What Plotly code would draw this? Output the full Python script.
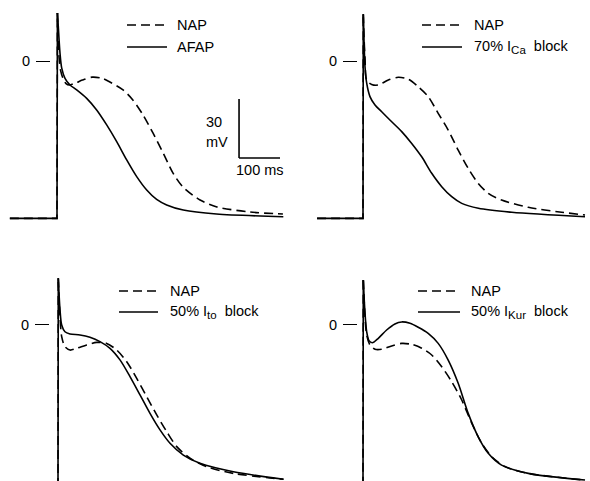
import plotly.graph_objects as go

# ---------------- data (time in ms from upstroke, membrane potential in mV) ----------------
REST = -80

# Panel A: NAP vs AFAP
a_nap_t = [-115, 0, 1, 2.5, 5, 9, 15, 22, 30, 45, 62, 86, 110, 129, 161, 185, 210, 234, 259, 283, 307, 349, 390, 471, 551]
a_nap_v = [REST, REST, 24.4, 12, 2, -5, -9, -11.5, -12.2, -11.2, -9.7, -8.2, -8.8, -10.7, -14.7, -19.8, -27.5, -36.6, -46.8, -57, -64, -70.7, -74.2, -76.8, -77.8]
a_afap_t = [-115, 0, 1, 3, 7.3, 11.4, 19.5, 31.7, 48, 72.4, 96.7, 121.2, 145.6, 170, 194.4, 218.8, 243, 267.5, 308, 389, 552]
a_afap_v = [REST, REST, 24.4, 18, 4, -3.5, -8.8, -12.2, -14.7, -19, -24.9, -32.5, -41, -50.3, -58.8, -65.6, -70.4, -73.2, -75.8, -77.8, -79.2]

# Panel B: NAP vs 70% ICa block
b_nap_t = [-112, 0, 0.7, 2.5, 5, 9, 21.2, 37.3, 61.7, 86, 110.5, 134.6, 159, 183.4, 207.8, 232.2, 256.6, 281, 305.5, 338, 403, 484.5, 541.5]
b_nap_v = [REST, REST, 23.8, 12, 1, -9.7, -11.9, -12.2, -9.7, -8.3, -9.3, -13.1, -18.1, -26.6, -35.1, -45.3, -54.6, -62.2, -67.3, -70.7, -74.4, -76.9, -78.3]
b_ica_t = [-112, 0, 0.7, 2.5, 4.9, 9, 17, 29.3, 45.6, 70, 94.4, 118.8, 143.2, 167.6, 192, 216.4, 240.8, 281.4, 363, 541.5]
b_ica_v = [REST, REST, 23.8, 10, -2.9, -11.3, -18.1, -22.4, -25.8, -30.9, -35.9, -41.9, -48.7, -57.1, -63.9, -69, -72.4, -74.9, -76.9, -79.2]

# Panel C: NAP vs 50% Ito block
c_nap_t = [-115, 0, 0.7, 4.9, 9, 17, 29.3, 45.6, 70, 94.4, 118.8, 143.2, 167.6, 192, 216.4, 240.8, 265.2, 289.6, 322, 362.7, 427.8, 550]
c_nap_v = [REST, REST, 23.5, 4, -6.2, -11.3, -13, -12.1, -10.4, -9.1, -9.6, -13, -18.9, -27.4, -36.7, -46, -54.5, -62.1, -68, -72.3, -75.7, -78.7]
c_ito_t = [-115, 0, 0.7, 4.9, 9, 17, 29.3, 53.7, 78, 102.4, 126.8, 151.2, 175.6, 200, 224.4, 248.8, 273.2, 305.7, 346.3, 427.8, 550]
c_ito_v = [REST, REST, 23.5, 7.4, -0.3, -3.7, -4.8, -5.3, -6.5, -8.7, -12.1, -18, -26.5, -35.8, -45.2, -53.6, -60.4, -66.4, -70.6, -74.9, -78.7]

# Panel D: NAP vs 50% IKur block
d_nap_t = [-112, 0, 0.7, 4.9, 9, 17, 29.3, 45.6, 70, 94.4, 118.8, 143.2, 167.6, 192, 216.4, 240.8, 265.2, 289.6, 314, 346.3, 403.4, 541.5]
d_nap_v = [REST, REST, 22.6, 4, -5.3, -10.4, -12.6, -12.6, -10.9, -9.6, -10.1, -12.1, -15.5, -21.5, -29.1, -38.4, -50.2, -60.4, -67.2, -72.2, -75.7, -79.1]
d_kur_t = [-112, 0, 0.7, 4.9, 9, 14.6, 22.7, 37.3, 57.6, 77.8, 94.4, 114.6, 134.6, 159, 183.4, 207.8, 232.2, 256.6, 281, 305.5, 338, 403, 541.5]
d_kur_v = [REST, REST, 22.6, 5.7, -3.7, -8.2, -9.3, -7, -2.8, 0.3, 1.3, 0.6, -1.4, -4.5, -9.6, -18.1, -29.9, -45.2, -57.1, -65.5, -71.5, -75.7, -79.1]

SUB = "<sub><span style='font-size:11.5px'>{}</span></sub>"
legend_names = [("NAP", "AFAP"),
                ("NAP", "70% I" + SUB.format("Ca") + "  block"),
                ("NAP", "50% I" + SUB.format("to") + "  block"),
                ("NAP", "50% I" + SUB.format("Kur") + "  block")]

# scale bar (panel A): 100 ms, 30 mV
SCALE_T0, SCALE_V0, SCALE_DT, SCALE_DV = 444, -49.3, 100, 30

# ---------------- layout geometry ----------------
W, H = 590, 481
MS_PER_PX = 100 / 41.0
MV_PER_PX = 30 / 59.0
FONT = "Liberation Sans, Arial, Helvetica, sans-serif"
FS = 14.5
LW = 1.6
DASH = "9px,5px"
PEAK_IDX = 2  # index of the spike peak: rest + upstroke drawn straight, the rest smoothed

def px(x):
    return x / W

def py(y):
    return 1 - y / H

# panel pixel boxes: (x_left, x_right, y_top, y_bottom, upstroke_x, zero_y, tick_x)
panels = [
    (0, 295, 0, 240, 57, 61, 50),
    (295, 590, 0, 240, 363, 61, 357),
    (0, 295, 240, 481, 58, 324.5, 49),
    (295, 590, 240, 481, 363, 324.5, 357),
]
series = [
    (a_nap_t, a_nap_v, a_afap_t, a_afap_v),
    (b_nap_t, b_nap_v, b_ica_t, b_ica_v),
    (c_nap_t, c_nap_v, c_ito_t, c_ito_v),
    (d_nap_t, d_nap_v, d_kur_t, d_kur_v),
]

fig = go.Figure()
layout = dict(
    width=W, height=H,
    margin=dict(l=0, r=0, t=0, b=0),
    paper_bgcolor="white", plot_bgcolor="white",
    showlegend=False,
    font=dict(family=FONT, size=FS, color="black"),
)

shapes = []
annotations = []


def add_series(t, v, xa, ya, dash, name):
    line = dict(color="black", width=LW)
    if dash:
        line["dash"] = dash
    # resting level + upstroke: straight segments
    fig.add_trace(go.Scatter(x=t[:PEAK_IDX + 1], y=v[:PEAK_IDX + 1], mode="lines",
                             xaxis=xa, yaxis=ya, line=dict(line, shape="linear"),
                             name=name, hoverinfo="skip"))
    # repolarisation: smooth curve
    fig.add_trace(go.Scatter(x=t[PEAK_IDX:], y=v[PEAK_IDX:], mode="lines",
                             xaxis=xa, yaxis=ya,
                             line=dict(line, shape="spline", smoothing=0.8),
                             name=name))


for i, ((xl, xr, yt, yb, x0, y0, tx), (nt, nv, st, sv)) in enumerate(zip(panels, series)):
    k = "" if i == 0 else str(i + 1)
    xa, ya = "x" + k, "y" + k
    xrange = [(xl - x0) * MS_PER_PX, (xr - x0) * MS_PER_PX]
    yrange = [(y0 - yb) * MV_PER_PX, (y0 - yt) * MV_PER_PX]
    layout["xaxis" + k] = dict(domain=[px(xl), px(xr)], range=xrange, visible=False,
                               anchor=ya, fixedrange=True)
    layout["yaxis" + k] = dict(domain=[py(yb), py(yt)], range=yrange,
                               anchor="free", position=px(tx),
                               showgrid=False, zeroline=False, showline=False,
                               tickmode="array", tickvals=[0], ticktext=["0"],
                               ticks="outside", ticklen=14, tickwidth=1.4, tickcolor="black",
                               ticklabelstandoff=3,
                               tickfont=dict(family=FONT, size=FS, color="black"),
                               fixedrange=True)
    add_series(nt, nv, xa, ya, DASH, legend_names[i][0])
    add_series(st, sv, xa, ya, None, legend_names[i][1])

# legends (drawn manually)
leg_pos = [
    (127, 167, 175, 25, 47),
    (422, 462, 472, 25, 47),
    (119, 158, 168, 291, 312),
    (418, 460, 469, 291, 312),
]
for (l0, l1, tx, yd, ys), (n1, n2) in zip(leg_pos, legend_names):
    shapes.append(dict(type="line", xref="paper", yref="paper", x0=px(l0), x1=px(l1),
                       y0=py(yd), y1=py(yd), line=dict(color="black", width=LW, dash=DASH)))
    shapes.append(dict(type="line", xref="paper", yref="paper", x0=px(l0), x1=px(l1),
                       y0=py(ys), y1=py(ys), line=dict(color="black", width=LW)))
    annotations.append(dict(xref="paper", yref="paper", x=px(tx), y=py(yd), text=n1,
                            showarrow=False, xanchor="left", yanchor="middle",
                            font=dict(family=FONT, size=FS, color="black")))
    annotations.append(dict(xref="paper", yref="paper", x=px(tx), y=py(ys), text=n2,
                            showarrow=False, xanchor="left", yanchor="middle",
                            font=dict(family=FONT, size=FS, color="black")))

# scale bar in data coordinates of panel A
shapes.append(dict(type="line", xref="x", yref="y", x0=SCALE_T0, x1=SCALE_T0,
                   y0=SCALE_V0, y1=SCALE_V0 + SCALE_DV, line=dict(color="black", width=1.6)))
shapes.append(dict(type="line", xref="x", yref="y", x0=SCALE_T0, x1=SCALE_T0 + SCALE_DT,
                   y0=SCALE_V0, y1=SCALE_V0, line=dict(color="black", width=1.6)))
annotations.append(dict(xref="x", yref="y", x=SCALE_T0 - 61, y=SCALE_V0 + 18.3,
                        text="30", showarrow=False, xanchor="center", yanchor="middle",
                        font=dict(family=FONT, size=FS, color="black")))
annotations.append(dict(xref="x", yref="y", x=SCALE_T0 - 54, y=SCALE_V0 + 8.1,
                        text="mV", showarrow=False, xanchor="center", yanchor="middle",
                        font=dict(family=FONT, size=FS, color="black")))
annotations.append(dict(xref="x", yref="y", x=SCALE_T0 + 51, y=SCALE_V0 - 6.1,
                        text="100 ms", showarrow=False, xanchor="center", yanchor="middle",
                        font=dict(family=FONT, size=FS, color="black")))

layout["shapes"] = shapes
layout["annotations"] = annotations
fig.update_layout(**layout)
fig.write_html("out.html")
